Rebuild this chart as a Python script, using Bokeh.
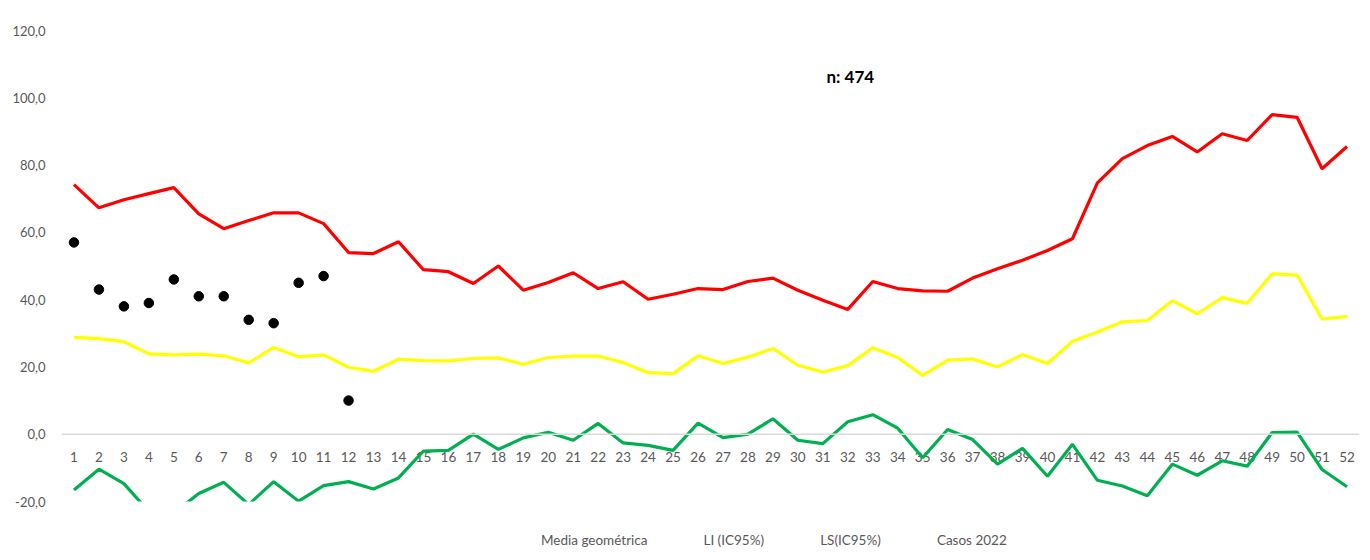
from bokeh.plotting import figure
from bokeh.layouts import column
from bokeh.models import Range1d, FixedTicker, Legend, LegendItem, Span
from bokeh.core.properties import value
from bokeh.embed import file_html
from bokeh.resources import INLINE

semanas = list(range(1, 53))
etiquetas_semanas = [str(s) for s in semanas]

media_geometrica = [28.8, 28.4, 27.5, 23.9, 23.6, 23.8, 23.3, 21.2, 25.8, 23.0,
                    23.6, 19.9, 18.7, 22.3, 21.9, 21.8, 22.5, 22.7, 20.8, 22.8,
                    23.2, 23.2, 21.3, 18.3, 18.0, 23.3, 21.0, 22.9, 25.5, 20.5,
                    18.5, 20.4, 25.7, 22.8, 17.5, 22.0, 22.4, 20.0, 23.7, 21.0,
                    27.6, 30.4, 33.4, 33.8, 39.7, 35.8, 40.6, 38.9, 47.7, 47.3,
                    34.2, 35.0]

li_ic95 = [-16.6, -10.4, -14.7, -23.0, -23.5, -17.6, -14.3, -20.9, -14.1, -19.9,
           -15.3, -14.1, -16.3, -13.0, -5.0, -4.8, 0.0, -4.5, -1.1, 0.6,
           -1.8, 3.2, -2.6, -3.3, -4.8, 3.3, -1.0, 0.0, 4.6, -1.8,
           -2.8, 3.7, 5.8, 1.8, -7.0, 1.4, -1.6, -8.9, -4.2, -12.5,
           -3.0, -13.7, -15.4, -18.3, -8.9, -12.2, -7.9, -9.5, 0.5, 0.6,
           -10.5, -15.6]

ls_ic95 = [74.2, 67.3, 69.7, 71.5, 73.3, 65.5, 61.1, 63.5, 65.8, 65.8,
           62.6, 54.0, 53.7, 57.2, 48.9, 48.3, 44.8, 50.0, 42.8, 45.1,
           48.0, 43.3, 45.3, 40.1, 41.6, 43.3, 43.0, 45.4, 46.4, 42.8,
           39.8, 37.1, 45.4, 43.3, 42.6, 42.5, 46.4, 49.2, 51.7, 54.6,
           58.1, 74.7, 81.9, 85.8, 88.5, 83.9, 89.3, 87.3, 95.0, 94.2,
           78.9, 85.5]

semanas_2022 = list(range(1, 13))
casos_2022 = [57, 43, 38, 39, 46, 41, 41, 34, 33, 45, 47, 10]

y_ticks = [-20, 0, 20, 40, 60, 80, 100, 120]
y_labels = {t: f"{t},0" for t in y_ticks}

FONT = "Lato"
GRAY = "#595959"
C_MEDIA, C_LI, C_LS = "#FFFF00", "#00B050", "#FF0000"

p = figure(width=1361, height=511, output_backend="svg", toolbar_location=None,
           x_range=Range1d(0.5, 52.5), y_range=Range1d(-20, 120),
           x_axis_location=None,
           min_border_left=61, min_border_right=2, min_border_top=30,
           min_border_bottom=10)
p.outline_line_color = None
p.grid.visible = False

# horizontal axis line at zero and week labels under it
p.add_layout(Span(location=0, dimension="width", line_color="#d9d9d9", line_width=1.5))
p.text(x=semanas, y=[0] * len(semanas), text=etiquetas_semanas, text_font=value(FONT),
       text_font_size="13.5px", text_color=GRAY, text_align="center",
       text_baseline="middle", y_offset=23)

ya = p.yaxis[0]
ya.ticker = FixedTicker(ticks=y_ticks)
ya.major_label_overrides = y_labels
ya.axis_line_color = None
ya.major_tick_line_color = None
ya.minor_tick_line_color = None
ya.major_label_standoff = 10
ya.major_label_text_font = FONT
ya.major_label_text_font_size = "13px"
ya.major_label_text_color = GRAY

p.line(semanas, media_geometrica, line_color=C_MEDIA, line_width=3.2)
p.line(semanas, li_ic95, line_color=C_LI, line_width=3.2)
p.line(semanas, ls_ic95, line_color=C_LS, line_width=3.2)
p.scatter(semanas_2022, casos_2022, size=9.5, fill_color="black", line_color="black")

p.text(x=[32.1], y=[106.2], text=["n: 474"], text_font=value(FONT),
       text_font_style="bold", text_font_size="17px", text_color="black",
       text_align="center", text_baseline="middle")

# legend strip below the chart
q = figure(width=1361, height=42, output_backend="svg", toolbar_location=None,
           x_range=Range1d(0, 1), y_range=Range1d(0, 1),
           x_axis_location=None, y_axis_location=None,
           min_border_left=0, min_border_right=0, min_border_top=0,
           min_border_bottom=0)
q.outline_line_color = None
q.grid.visible = False
l_media = q.line([], [], line_color=C_MEDIA, line_width=3.2)
l_li = q.line([], [], line_color=C_LI, line_width=3.2)
l_ls = q.line([], [], line_color=C_LS, line_width=3.2)
l_casos = q.scatter([], [], size=9.5, fill_color="black", line_color="black")

legend = Legend(items=[
    LegendItem(label="Media geométrica", renderers=[l_media]),
    LegendItem(label="LI (IC95%)", renderers=[l_li]),
    LegendItem(label="LS(IC95%)", renderers=[l_ls]),
    LegendItem(label="Casos 2022", renderers=[l_casos]),
], orientation="horizontal", location=(445, 3))
legend.label_text_font = FONT
legend.label_text_font_size = "13.5px"
legend.label_text_color = GRAY
legend.glyph_width = 33
legend.glyph_height = 20
legend.label_standoff = 2
legend.spacing = 21
legend.border_line_color = None
legend.background_fill_alpha = 0
legend.padding = 0
legend.margin = 0
q.add_layout(legend)

layout = column(p, q, spacing=0)
open("out.html", "w").write(file_html(layout, INLINE))
